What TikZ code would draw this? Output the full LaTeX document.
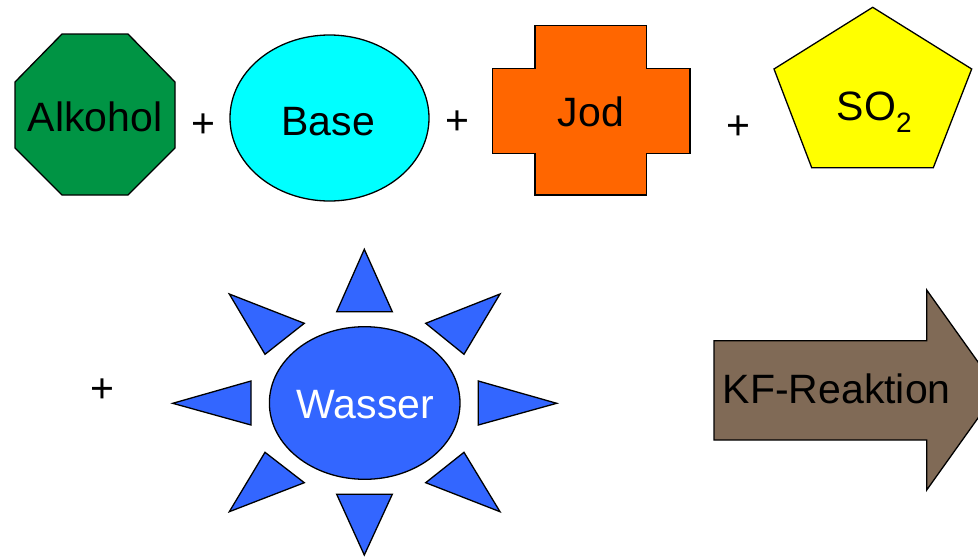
\documentclass[tikz,border=0pt]{standalone}
\usepackage{fontspec}
\setmainfont{Liberation Sans}
\definecolor{alkgreen}{RGB}{0,148,68}
\definecolor{basecyan}{RGB}{0,255,255}
\definecolor{jodorange}{RGB}{255,102,0}
\definecolor{soyellow}{RGB}{255,255,0}
\definecolor{wasblue}{RGB}{51,102,255}
\definecolor{kfbrown}{RGB}{128,106,86}
\begin{document}
\begin{tikzpicture}[x=1pt,y=-1pt,
  shapeline/.style={draw=black,line width=1.3pt,line join=miter},
  lbl/.style={inner sep=0pt,anchor=base,font=\fontsize{41}{49}\selectfont},
  plus/.style={inner sep=0pt,anchor=base,font=\fontsize{41}{49}\selectfont}]
\clip (0,0) rectangle (978,557);
% Alkohol octagon
\draw[shapeline,fill=alkgreen] (62,34) -- (128,34) -- (175,82) -- (175,148) -- (128,195) -- (62,195) -- (15,148) -- (15,82) -- cycle;
\node[lbl] (alk) at (95,131.7) {Alkohol};
\node[plus] (p1) at (203.3,137.8) {+};
% Base ellipse
\draw[shapeline,fill=basecyan] (329.5,118) ellipse [x radius=99.5,y radius=83];
\node[lbl] (base) at (328.3,135) {Base};
\node[plus] (p2) at (457.3,134.5) {+};
% Jod cross
\draw[shapeline,fill=jodorange] (535,25.7) -- (646.7,25.7) -- (646.7,68.3) -- (690,68.3) -- (690,153.3) -- (646.7,153.3) -- (646.7,195) -- (535,195) -- (535,153.3) -- (492.3,153.3) -- (492.3,68.3) -- (535,68.3) -- cycle;
\node[lbl] (jod) at (590.8,126.7) {Jod};
\node[plus] (p3) at (738,139.2) {+};
% SO2 pentagon
\draw[shapeline,fill=soyellow] (872.7,7.3) -- (971.7,69) -- (933.3,167.7) -- (811.7,167.7) -- (774,69) -- cycle;
\node[lbl,anchor=base west] (so) at (836.7,120) {SO\raisebox{-12pt}{\fontsize{28}{30}\selectfont 2}};
% plus before Wasser
\node[plus] (p4) at (102.7,402.2) {+};
% Wasser sun
\begin{scope}[shapeline,fill=wasblue]
\filldraw (364.3,249.3) -- (392.3,311.7) -- (336.7,311.7) -- cycle;
\filldraw (364.3,555) -- (392.3,494.3) -- (336.7,494.3) -- cycle;
\filldraw (172.7,403.3) -- (251,381) -- (251,425) -- cycle;
\filldraw (556.7,403.3) -- (478.3,381) -- (478.3,425) -- cycle;
\filldraw (229.3,294) -- (304.3,323.3) -- (265,354.3) -- cycle;
\filldraw (500,294) -- (425.7,323.3) -- (464,354.3) -- cycle;
\filldraw (229.3,511.7) -- (304.3,482.7) -- (265,452.3) -- cycle;
\filldraw (500,511.7) -- (425.7,482.7) -- (464,452.3) -- cycle;
\filldraw (364.7,403) ellipse [x radius=95.3,y radius=76.3];
\end{scope}
\node[lbl,text=white] (wasser) at (365.5,418.3) {Wasser};
% KF-Reaktion arrow
\draw[shapeline,fill=kfbrown] (714,340.7) -- (926.7,340.7) -- (926.7,290) -- (998,390) -- (926.7,490) -- (926.7,440) -- (714,440) -- cycle;
\node[lbl] (kf) at (836.7,403.3) {KF-Reaktion};
\end{tikzpicture}
\end{document}
